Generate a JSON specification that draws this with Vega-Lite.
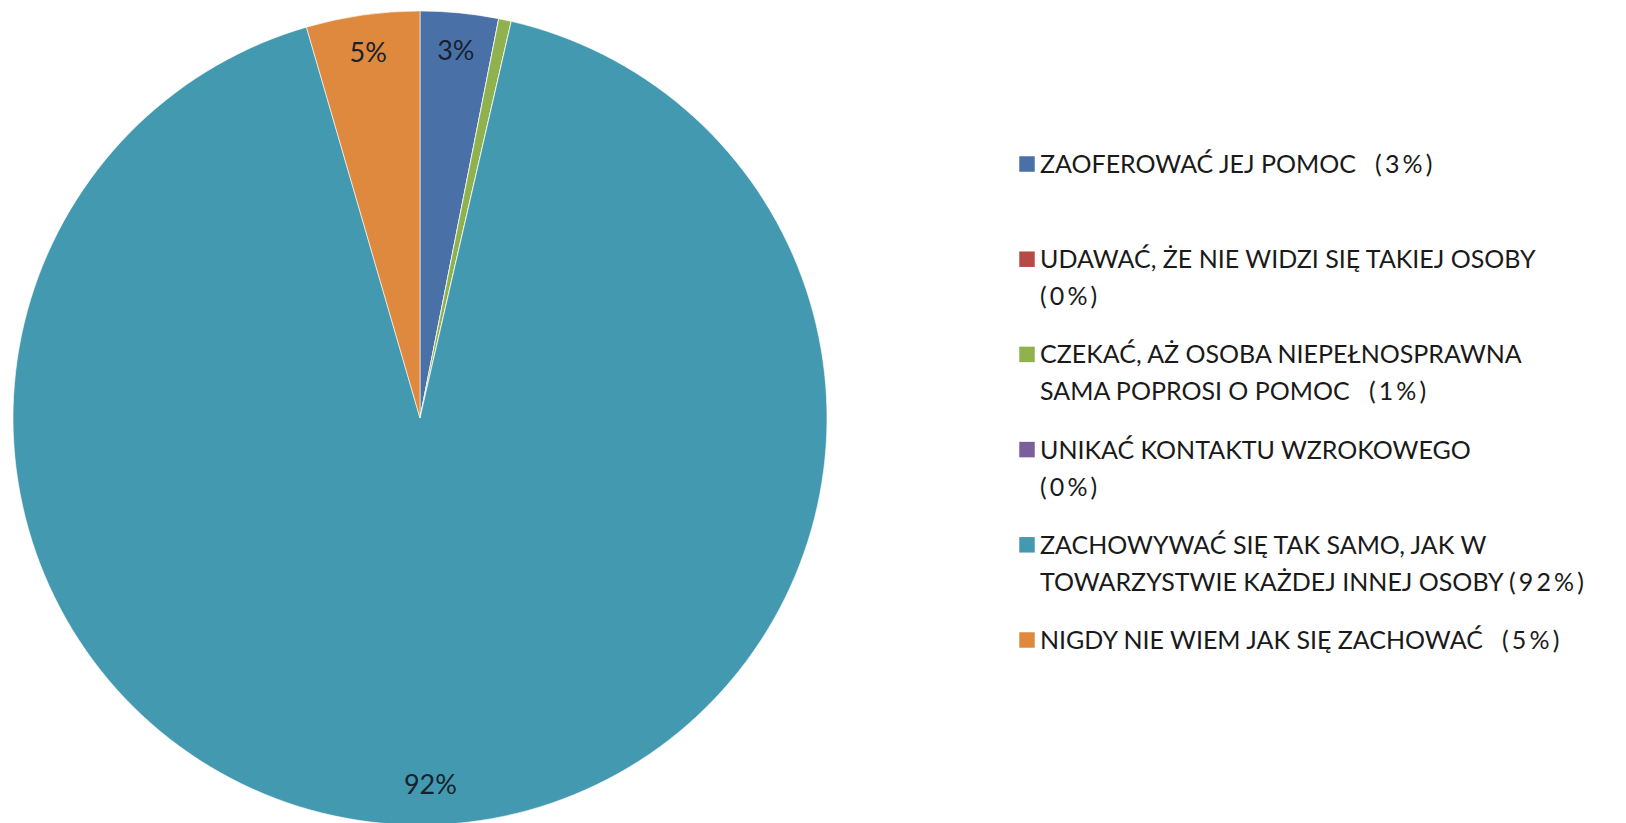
{
  "$schema": "https://vega.github.io/schema/vega-lite/v6.json",
  "background": "white",
  "padding": 0,
  "spacing": 179,
  "config": {"view": {"stroke": null}, "font": "Lato"},
  "datasets": {
    "pie": [
      {"kategoria": "ZAOFEROWAĆ JEJ POMOC", "procent": 3.1, "etykieta": "3%", "kolejnosc": 1},
      {"kategoria": "UDAWAĆ, ŻE NIE WIDZI SIĘ TAKIEJ OSOBY", "procent": 0, "etykieta": "", "kolejnosc": 2},
      {"kategoria": "CZEKAĆ, AŻ OSOBA NIEPEŁNOSPRAWNA SAMA POPROSI O POMOC", "procent": 0.5, "etykieta": "", "kolejnosc": 3},
      {"kategoria": "UNIKAĆ KONTAKTU WZROKOWEGO", "procent": 0, "etykieta": "", "kolejnosc": 4},
      {"kategoria": "ZACHOWYWAĆ SIĘ TAK SAMO, JAK W TOWARZYSTWIE KAŻDEJ INNEJ OSOBY", "procent": 91.9, "etykieta": "92%", "kolejnosc": 5},
      {"kategoria": "NIGDY NIE WIEM JAK SIĘ ZACHOWAĆ", "procent": 4.5, "etykieta": "5%", "kolejnosc": 6}
    ],
    "legenda": [
      {"kategoria": "ZAOFEROWAĆ JEJ POMOC", "tekst": "ZAOFEROWAĆ JEJ POMOC\u00a0\u00a0\u00a0(\u20093\u2009%\u2009)", "pozycja": 0},
      {"kategoria": "UDAWAĆ, ŻE NIE WIDZI SIĘ TAKIEJ OSOBY", "tekst": "UDAWAĆ, ŻE NIE WIDZI SIĘ TAKIEJ OSOBY\n(\u20090\u2009%\u2009)", "pozycja": 1},
      {"kategoria": "CZEKAĆ, AŻ OSOBA NIEPEŁNOSPRAWNA SAMA POPROSI O POMOC", "tekst": "CZEKAĆ, AŻ OSOBA NIEPEŁNOSPRAWNA\nSAMA POPROSI O POMOC\u00a0\u00a0\u00a0(\u20091\u2009%\u2009)", "pozycja": 2},
      {"kategoria": "UNIKAĆ KONTAKTU WZROKOWEGO", "tekst": "UNIKAĆ KONTAKTU WZROKOWEGO\n(\u20090\u2009%\u2009)", "pozycja": 3},
      {"kategoria": "ZACHOWYWAĆ SIĘ TAK SAMO, JAK W TOWARZYSTWIE KAŻDEJ INNEJ OSOBY", "tekst": "ZACHOWYWAĆ SIĘ TAK SAMO, JAK W\nTOWARZYSTWIE KAŻDEJ INNEJ OSOBY\u00a0(\u20099\u20092\u2009%\u2009)", "pozycja": 4},
      {"kategoria": "NIGDY NIE WIEM JAK SIĘ ZACHOWAĆ", "tekst": "NIGDY NIE WIEM JAK SIĘ ZACHOWAĆ\u00a0\u00a0\u00a0(\u20095\u2009%\u2009)", "pozycja": 5}
    ]
  },
  "hconcat": [
    {
      "width": 840,
      "height": 836,
      "data": {"name": "pie"},
      "encoding": {
        "theta": {"field": "procent", "type": "quantitative", "stack": true},
        "order": {"field": "kolejnosc", "type": "quantitative"}
      },
      "layer": [
        {
          "mark": {"type": "arc", "outerRadius": 407, "stroke": "#ffffff", "strokeWidth": 0.6},
          "encoding": {
            "color": {
              "field": "kategoria",
              "type": "nominal",
              "legend": null,
              "scale": {
                "domain": [
                  "ZAOFEROWAĆ JEJ POMOC",
                  "UDAWAĆ, ŻE NIE WIDZI SIĘ TAKIEJ OSOBY",
                  "CZEKAĆ, AŻ OSOBA NIEPEŁNOSPRAWNA SAMA POPROSI O POMOC",
                  "UNIKAĆ KONTAKTU WZROKOWEGO",
                  "ZACHOWYWAĆ SIĘ TAK SAMO, JAK W TOWARZYSTWIE KAŻDEJ INNEJ OSOBY",
                  "NIGDY NIE WIEM JAK SIĘ ZACHOWAĆ"
                ],
                "range": ["#4a70a8", "#b54a46", "#8fb24e", "#7a5f9c", "#4399b0", "#de893e"]
              }
            }
          }
        },
        {
          "mark": {"type": "text", "radius": 368, "fontSize": 27, "fill": "#17212c", "font": "Lato"},
          "encoding": {"text": {"field": "etykieta", "type": "nominal"}}
        }
      ]
    },
    {
      "width": 607,
      "height": 836,
      "data": {"name": "legenda"},
      "encoding": {
        "x": {"datum": 0, "type": "quantitative", "scale": {"domain": [0, 1], "nice": false}, "axis": null},
        "y": {"field": "pozycja", "type": "quantitative", "scale": {"domain": [-1.723, 7.059], "reverse": true, "nice": false, "zero": false}, "axis": null}
      },
      "layer": [
        {
          "mark": {"type": "point", "shape": "square", "filled": true, "opacity": 1, "size": 240},
          "encoding": {
            "color": {
              "field": "kategoria",
              "type": "nominal",
              "legend": null,
              "scale": {
                "domain": [
                  "ZAOFEROWAĆ JEJ POMOC",
                  "UDAWAĆ, ŻE NIE WIDZI SIĘ TAKIEJ OSOBY",
                  "CZEKAĆ, AŻ OSOBA NIEPEŁNOSPRAWNA SAMA POPROSI O POMOC",
                  "UNIKAĆ KONTAKTU WZROKOWEGO",
                  "ZACHOWYWAĆ SIĘ TAK SAMO, JAK W TOWARZYSTWIE KAŻDEJ INNEJ OSOBY",
                  "NIGDY NIE WIEM JAK SIĘ ZACHOWAĆ"
                ],
                "range": ["#4a70a8", "#b54a46", "#8fb24e", "#7a5f9c", "#4399b0", "#de893e"]
              }
            }
          }
        },
        {
          "mark": {"type": "text", "align": "left", "baseline": "alphabetic", "dx": 13, "dy": 9, "fontSize": 25, "lineBreak": "\n", "lineHeight": 37, "fill": "#1a1a1a", "font": "Lato"},
          "encoding": {"text": {"field": "tekst", "type": "nominal"}}
        }
      ]
    }
  ]
}
